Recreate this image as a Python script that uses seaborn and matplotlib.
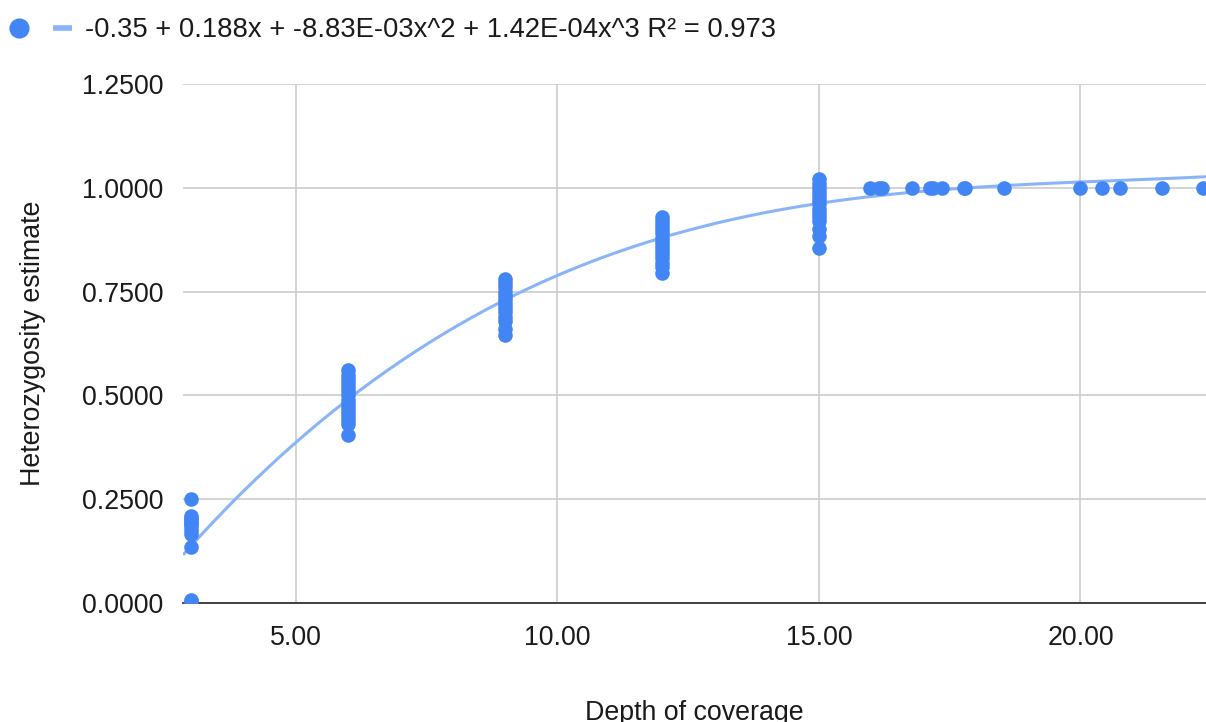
import numpy as np
import pandas as pd
import matplotlib
matplotlib.use("Agg")
import matplotlib.pyplot as plt
from matplotlib.lines import Line2D
import seaborn as sns

# Simulated heterozygosity estimates by sequencing depth
depth_3 = [0.25, 0.21, 0.205, 0.20, 0.195, 0.19, 0.185, 0.175, 0.165, 0.135, 0.008, 0.005]
depth_6 = [0.56, 0.55, 0.54, 0.53, 0.52, 0.51, 0.50, 0.49, 0.48, 0.47, 0.46, 0.45, 0.44, 0.43, 0.405]
depth_9 = [0.78, 0.77, 0.76, 0.75, 0.74, 0.73, 0.72, 0.71, 0.70, 0.69, 0.68, 0.66, 0.645]
depth_12 = [0.93, 0.92, 0.91, 0.90, 0.89, 0.88, 0.87, 0.86, 0.85, 0.84, 0.83, 0.82, 0.81, 0.795]
depth_15 = [1.02, 1.01, 1.00, 0.99, 0.98, 0.97, 0.96, 0.95, 0.94, 0.93, 0.92, 0.90, 0.885, 0.855]
high_depth_x = [15.97, 16.15, 16.2, 16.77, 17.12, 17.18, 17.35, 17.77, 17.8, 18.53,
                20.0, 20.42, 20.76, 21.55, 22.35]
high_depth_y = [1.0] * len(high_depth_x)

# Cubic trend coefficients (constant, x, x^2, x^3)
trend_coef = [-0.35, 0.188, -8.83e-3, 1.42e-4]
trend_label = "-0.35 + 0.188x + -8.83E-03x^2 + 1.42E-04x^3 R² = 0.973"

y_ticks = [0.0, 0.25, 0.5, 0.75, 1.0, 1.25]
x_ticks = [5, 10, 15, 20]

xs, ys = [], []
for d, vals in [(3, depth_3), (6, depth_6), (9, depth_9), (12, depth_12), (15, depth_15)]:
    xs += [d] * len(vals)
    ys += vals
xs += high_depth_x
ys += high_depth_y
df = pd.DataFrame({"depth": xs, "het": ys})

x_min, x_max = 2.84, 22.4
curve_x = np.linspace(x_min, x_max, 300)
curve_y = sum(c * curve_x ** i for i, c in enumerate(trend_coef))
curve = pd.DataFrame({"depth": curve_x, "het": curve_y})

sns.set_theme(style="white")
plt.rcParams["font.family"] = ["Liberation Sans", "DejaVu Sans"]

point_color = "#4285F4"
line_color = "#8AB4F8"
text_color = "#1a1a1a"
fs = 19.3
legend_fs = 19.7

fig = plt.figure(figsize=(12.06, 7.22), dpi=100)
ax = fig.add_axes([183 / 1206, (722 - 603) / 722, 1 - 183 / 1206, (603 - 84) / 722])

sns.lineplot(data=curve, x="depth", y="het", ax=ax, color=line_color, linewidth=2.2,
             sort=False, zorder=2, solid_capstyle="butt")
sns.scatterplot(data=df, x="depth", y="het", ax=ax, color=point_color, s=110,
                linewidth=0, zorder=3)

ax.set_xlim(x_min, x_max)
ax.set_ylim(0, 1.25)
ax.set_xticks(x_ticks)
ax.set_xticklabels([f"{v:.2f}" for v in x_ticks])
ax.set_yticks(y_ticks)
ax.set_yticklabels([f"{v:.4f}" for v in y_ticks])
ax.tick_params(axis="both", labelsize=fs, colors=text_color, length=0)
ax.tick_params(axis="x", pad=16)
ax.tick_params(axis="y", pad=14)
ax.grid(True, color="#cccccc", linewidth=1.2)
ax.set_axisbelow(True)
for side in ["left", "right", "top"]:
    ax.spines[side].set_visible(False)
ax.spines["bottom"].set_color("#333333")
ax.spines["bottom"].set_linewidth(1.3)

ax.set_xlabel("Depth of coverage", fontsize=fs, color=text_color, labelpad=35)
ax.set_ylabel("Heterozygosity estimate", fontsize=fs, color=text_color, labelpad=26)

handles = [
    Line2D([], [], marker="o", linestyle="none", color=point_color, markersize=13.5),
    Line2D([], [], color=line_color, linewidth=4, solid_capstyle="butt"),
]
fig.legend(handles, ["", trend_label], loc="upper left", bbox_to_anchor=(-0.002, 0.993),
           ncol=2, frameon=False, fontsize=legend_fs, handlelength=0.7, handletextpad=0.47,
           columnspacing=0.4, borderaxespad=0.0, borderpad=0.45, labelcolor=text_color)

fig.savefig("out.png", dpi=100)
